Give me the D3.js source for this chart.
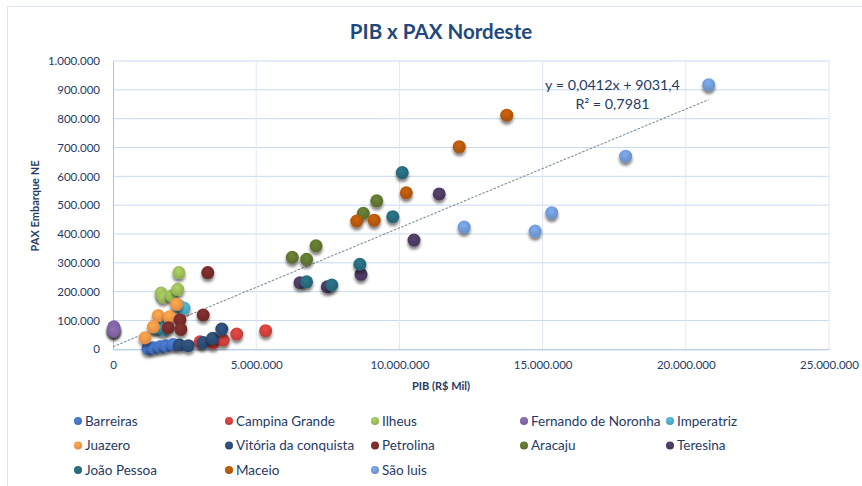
<!DOCTYPE html>
<html><head><meta charset="utf-8">
<script src="https://cdn.jsdelivr.net/npm/d3@7"></script>
<style>
html,body{margin:0;padding:0;background:#fff;}
svg{display:block;font-family:Lato,"Open Sans",sans-serif;}
</style></head>
<body><svg id="chart" width="862" height="486"></svg>
<script>
// ---------- DATA ----------
const cities = ["Barreiras","Campina Grande","Ilheus","Fernando de Noronha","Imperatriz",
  "Juazero","Vitória da conquista","Petrolina","Aracaju","Teresina",
  "João Pessoa","Maceio","São luis"];
const colors = ["#4472C4","#D0403C","#9BBB59","#8064A2","#4BACC6",
  "#F79646","#2C4D75","#772C2A","#5F7530","#4D3B62",
  "#276A7C","#B65708","#6F9AD6"];
// PIB (R$ Mil) per city, one value per year
const pibValues = [
  [1220000,1410000,1640000,1850000,2100000],
  [3040000,3490000,3850000,4320000,5330000],
  [1680000,1750000,2050000,2260000,2300000],
  [30000,30000,30000,30000,30000],
  [2300000,2480000,1610000,1750000,1500000],
  [2220000,1580000,1970000,1410000,1120000],
  [2320000,2630000,3150000,3480000,3800000],
  [2340000,1930000,2370000,3150000,3310000],
  [9210000,8740000,7090000,6260000,6760000],
  [11390000,10510000,8660000,6530000,7480000],
  [10100000,9770000,8620000,6760000,7640000],
  [13750000,12090000,10240000,9120000,8510000],
  [12260000,14740000,15320000,17900000,20800000]
];
// PAX Embarque NE per city, one value per year
const paxValues = [
  [2500,5500,9000,12500,17000],
  [26000,22000,32000,53000,64500],
  [195000,181000,186000,208000,266000],
  [78000,74000,70000,66000,62000],
  [152000,143000,81000,67000,74000],
  [156000,117000,113000,78000,40000],
  [15000,12500,24000,38000,70000],
  [102000,75000,69000,119000,266000],
  [515000,472000,359000,319000,312000],
  [539000,379000,260000,231000,217000],
  [613000,460000,295000,234000,223000],
  [812000,703000,543000,448000,445000],
  [424000,410000,474000,670000,918000]
];
const xTicks = [0,5000000,10000000,15000000,20000000,25000000];
const yTicks = [0,100000,200000,300000,400000,500000,600000,700000,800000,900000,1000000];
const trendSlope = 0.0412, trendIntercept = 9031.4;
const trendLabel = ["y = 0,0412x + 9031,4","R² = 0,7981"];
const titleText = "PIB x PAX Nordeste";
const xTitle = "PIB (R$ Mil)";
const yTitle = "PAX Embarque NE";

// ---------- CHART ----------
const svg = d3.select("#chart");
const loc = d3.formatLocale({decimal:",",thousands:".",grouping:[3],currency:["R$",""]});
const fmt = loc.format(",d");
const L=113,R=829,T=61,B=349.3;
const x = d3.scaleLinear().domain([0,25000000]).range([L,R]);
const y = d3.scaleLinear().domain([0,1000000]).range([B,T]);
const textCol = "#1F3A66";

svg.append("rect").attr("width",862).attr("height",486).attr("fill","#fff");
svg.append("path").attr("d","M7.5,486V6.5H862").attr("fill","none").attr("stroke","#DCE5F0").attr("stroke-width",1);

const defs = svg.append("defs");
const f = defs.append("filter").attr("id","sh").attr("x","-50%").attr("y","-50%").attr("width","200%").attr("height","220%");
f.append("feGaussianBlur").attr("in","SourceAlpha").attr("stdDeviation",1.7).attr("result","b");
f.append("feOffset").attr("in","b").attr("dy",2.7).attr("result","o");
f.append("feComponentTransfer").attr("in","o").attr("result","o2").append("feFuncA").attr("type","linear").attr("slope",0.5);
const m = f.append("feMerge"); m.append("feMergeNode").attr("in","o2"); m.append("feMergeNode").attr("in","SourceGraphic");
colors.forEach((c,i)=>{
  const g = defs.append("radialGradient").attr("id","g"+i).attr("cx","45%").attr("cy","35%").attr("r","65%");
  g.append("stop").attr("offset","0%").attr("stop-color",d3.color(c).brighter(0.35));
  g.append("stop").attr("offset","100%").attr("stop-color",d3.color(c).darker(0.25));
});

// gridlines
svg.append("g").selectAll("line").data(yTicks.filter(d=>d>0)).join("line")
  .attr("x1",L).attr("x2",R).attr("y1",d=>y(d)).attr("y2",d=>y(d))
  .attr("stroke","#C9DAEF").attr("stroke-width",1);
svg.append("g").selectAll("line").data(xTicks.filter(d=>d>0)).join("line")
  .attr("y1",T).attr("y2",B).attr("x1",d=>x(d)).attr("x2",d=>x(d))
  .attr("stroke","#DDE8F4").attr("stroke-width",1);

// axes
const xa = svg.append("g").attr("transform",`translate(0,${B})`)
  .call(d3.axisBottom(x).tickValues(xTicks).tickFormat(fmt).tickSize(0).tickPadding(12));
xa.select(".domain").attr("stroke","#9DBCE4");
xa.selectAll("text").attr("fill",textCol).attr("font-size",11.5).attr("font-family","Lato");
const ya = svg.append("g").attr("transform",`translate(${L},0)`)
  .call(d3.axisLeft(y).tickValues(yTicks).tickFormat(fmt).tickSize(0).tickPadding(13));
ya.select(".domain").attr("stroke","#A9C3E6");
ya.selectAll("text").attr("fill",textCol).attr("font-size",11.5).attr("font-family","Lato");

// trendline
const xmax = d3.max(pibValues.flat());
svg.append("line").attr("x1",x(0)).attr("y1",y(trendIntercept))
  .attr("x2",x(xmax)).attr("y2",y(trendSlope*xmax+trendIntercept))
  .attr("stroke","#7D8E9C").attr("stroke-width",1.1).attr("stroke-dasharray","2.5,1.5");

// points
cities.forEach((c,i)=>{
  svg.append("g").selectAll("circle").data(pibValues[i].map((v,j)=>[v,paxValues[i][j]])).join("circle")
    .attr("cx",d=>x(d[0])).attr("cy",d=>y(d[1])).attr("r",6.5)
    .attr("fill",`url(#g${i})`).attr("filter","url(#sh)");
});

// trend label
svg.append("text").attr("x",612.5).attr("y",90).attr("text-anchor","middle")
  .attr("font-size",14.3).attr("fill",textCol).text(trendLabel[0]);
svg.append("text").attr("x",612.5).attr("y",109).attr("text-anchor","middle")
  .attr("font-size",14.3).attr("fill",textCol).text(trendLabel[1]);

// titles
svg.append("text").attr("x",441).attr("y",39).attr("text-anchor","middle")
  .attr("font-size",20.5).attr("font-weight","bold").attr("fill","#1F497D").text(titleText);
svg.append("text").attr("x",441).attr("y",390).attr("text-anchor","middle")
  .attr("font-size",11).attr("font-weight","bold").attr("fill",textCol).text(xTitle);
svg.append("text").attr("transform","translate(39,206) rotate(-90)").attr("text-anchor","middle")
  .attr("font-size",11).attr("font-weight","bold").attr("fill",textCol).text(yTitle);

// legend
const colX=[78,229,375,524,670], rowY=[421,445.5,470];
cities.forEach((c,i)=>{
  const cx=colX[i%5], cy=rowY[Math.floor(i/5)];
  svg.append("circle").attr("cx",cx).attr("cy",cy).attr("r",4).attr("fill",`url(#g${i})`);
  svg.append("text").attr("x",cx+7).attr("y",cy+4.5).attr("font-size",13.5).attr("fill",textCol).text(c);
});
</script></body></html>
